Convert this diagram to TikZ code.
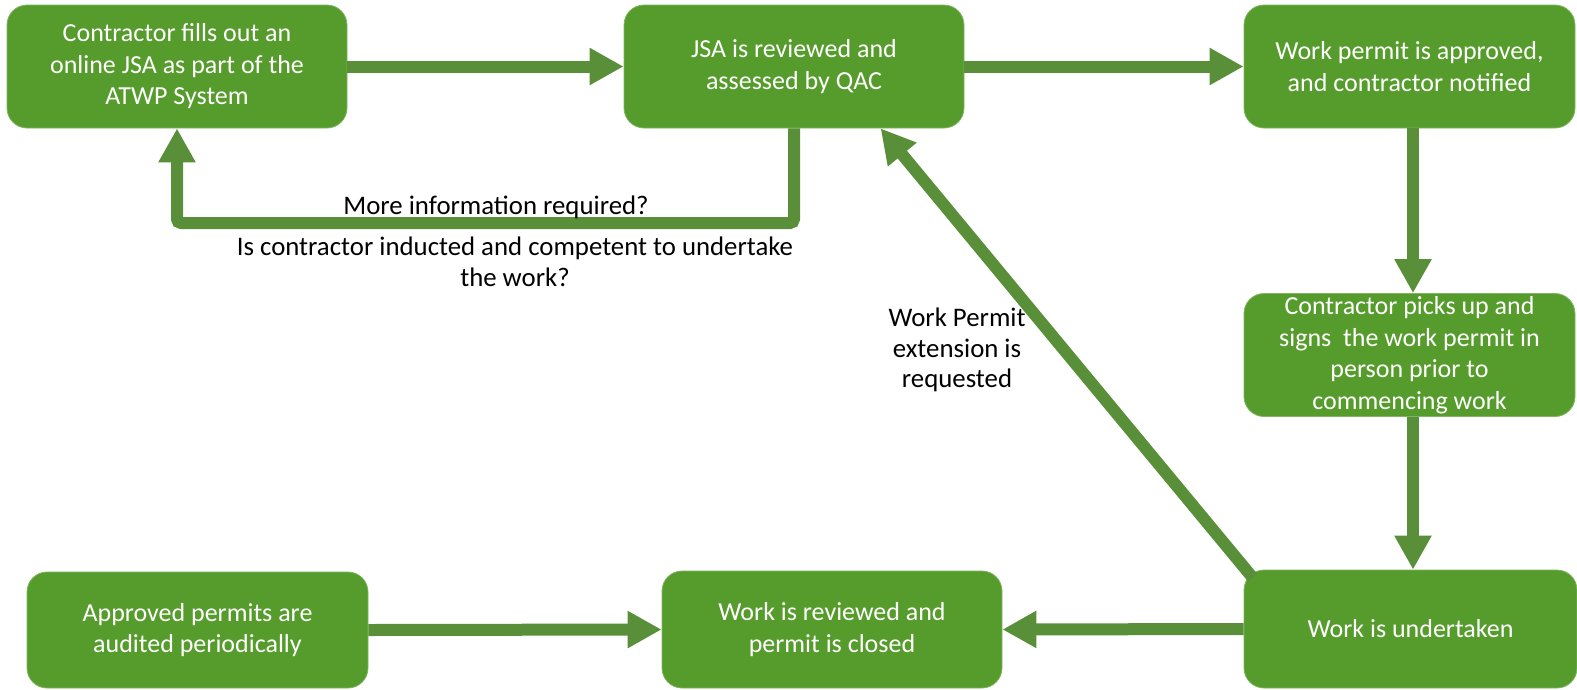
\documentclass[tikz,border=0pt]{standalone}
\usepackage{fontspec}
\setmainfont{Carlito}
\usetikzlibrary{arrows.meta}
\definecolor{boxgreen}{RGB}{86,156,44}
\definecolor{arrowgreen}{RGB}{89,143,57}
\tikzset{
  stepbox/.style={rectangle, rounded corners=20pt, fill=boxgreen, draw=boxgreen!75!white, line width=0.8pt,
    text=white, align=center, inner sep=0pt,
    font=\fontsize{26}{31.5}\selectfont},
  arr/.style={draw=arrowgreen, line width=12pt, -{Triangle[length=34pt,width=35pt]}},
  lbl/.style={text=black, align=center, inner sep=0pt, font=\fontsize{26.8}{30.5}\selectfont}
}
\begin{document}
\begin{tikzpicture}[x=1pt,y=-1pt]
\useasboundingbox (0,0) rectangle (1577,689);
\node[stepbox, minimum width=340pt, minimum height=123pt] (A) at (177,66.5) {Contractor fills out an\\online JSA as part of the\\ATWP System};
\node[stepbox, minimum width=340pt, minimum height=123pt] (B) at (794,66.5) {JSA is reviewed and\\assessed by QAC};
\node[stepbox, minimum width=331pt, minimum height=123pt] (C) at (1409.5,66.5) {Work permit is approved,\\and contractor notified};
\node[stepbox, minimum width=331pt, minimum height=123pt] (D) at (1409.5,355) {Contractor picks up and\\signs~ the work permit in\\person prior to\\commencing work};
\node[stepbox, minimum width=333pt, minimum height=118pt] (E) at (1410.5,629) {Work is undertaken};
\node[stepbox, minimum width=340pt, minimum height=117pt] (F) at (832,629.5) {Work is reviewed and\\permit is closed};
\node[stepbox, minimum width=341pt, minimum height=116pt] (G) at (197.5,630) {Approved permits are\\audited periodically};

\coordinate (fb) at (0,223);
\draw[arr] (A.east) -- (B.west);
\draw[arr] (B.east) -- (C.west);
\draw[arr] ([xshift=3.5pt]C.south) -- ([xshift=3.5pt]D.north);
\draw[arr] ([xshift=3.5pt]D.south) -- ([xshift=2.5pt]E.north);
\draw[arr] (E.west) -- (F.east);
\draw[arr] (G.east) -- (F.west);
\draw[arr, rounded corners=4pt] (B.south) -- (B.south |- fb) -- (A.south |- fb) -- (A.south);
\draw[arr] ([shift={(9,8)}]E.north west) -- ([xshift=257pt]B.south west);

\node[lbl] (l1) at (496,207) {More information required?};
\node[lbl] (l2) at (515,262) {Is contractor inducted and competent to undertake\\the work?};
\node[lbl] (l3) at (957,350) {Work Permit\\extension is\\requested};
\end{tikzpicture}
\end{document}
